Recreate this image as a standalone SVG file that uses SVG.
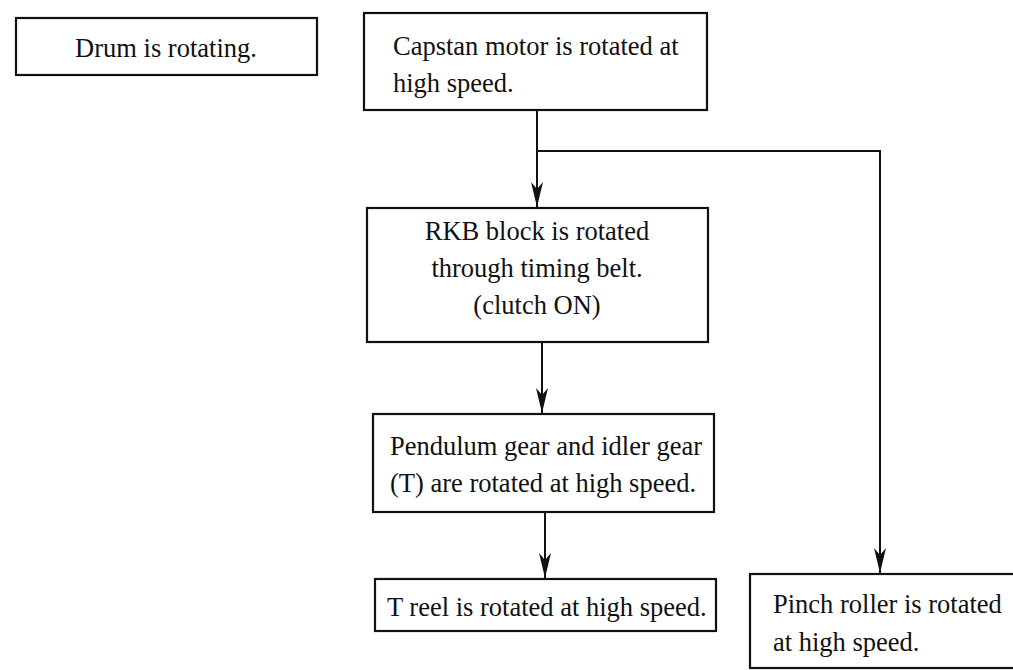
<svg xmlns="http://www.w3.org/2000/svg" width="1013" height="670" viewBox="0 0 1013 670">
<style>
.box{fill:#fff;stroke:#111;stroke-width:2.2}
.t{font-family:"Liberation Serif","Times New Roman",serif;font-size:26.5px;fill:#111}
.c{text-anchor:middle}
.ln{fill:none;stroke:#111;stroke-width:2}
</style>
<defs>
<marker id="ah" markerUnits="userSpaceOnUse" markerWidth="28" markerHeight="16" viewBox="-26 -8 28 16" refX="0" refY="0" orient="auto">
<path d="M0,0 L-25,-6 L-18,0 L-25,6 Z" fill="#111"/>
</marker>
</defs>
<rect width="1013" height="670" fill="#fff"/>
<g id="connectors">
<path class="ln" d="M537,110 V207" marker-end="url(#ah)"/>
<path class="ln" d="M537,151 H880 V573" marker-end="url(#ah)"/>
<path class="ln" d="M542,342 V413" marker-end="url(#ah)"/>
<path class="ln" d="M545,512 V578" marker-end="url(#ah)"/>
</g>
<g id="drum">
<rect class="box" x="16" y="18" width="301" height="57"/>
<text class="t c" x="166" y="57">Drum is rotating.</text>
</g>
<g id="capstan">
<rect class="box" x="364" y="13" width="343" height="97"/>
<text class="t" x="393" y="55">Capstan motor is rotated at</text>
<text class="t" x="393" y="92">high speed.</text>
</g>
<g id="rkb">
<rect class="box" x="367" y="208" width="341" height="134"/>
<text class="t c" x="537" y="240">RKB block is rotated</text>
<text class="t c" x="537" y="277">through timing belt.</text>
<text class="t c" x="537" y="314">(clutch ON)</text>
</g>
<g id="pendulum">
<rect class="box" x="373" y="414" width="341" height="98"/>
<text class="t" x="390" y="455">Pendulum gear and idler gear</text>
<text class="t" x="390" y="492">(T) are rotated at high speed.</text>
</g>
<g id="treel">
<rect class="box" x="375" y="579" width="341" height="52"/>
<text class="t" x="387" y="616">T reel is rotated at high speed.</text>
</g>
<g id="pinch">
<rect class="box" x="750" y="574" width="290" height="94"/>
<text class="t" x="773" y="613">Pinch roller is rotated</text>
<text class="t" x="773" y="651">at high speed.</text>
</g>
</svg>
